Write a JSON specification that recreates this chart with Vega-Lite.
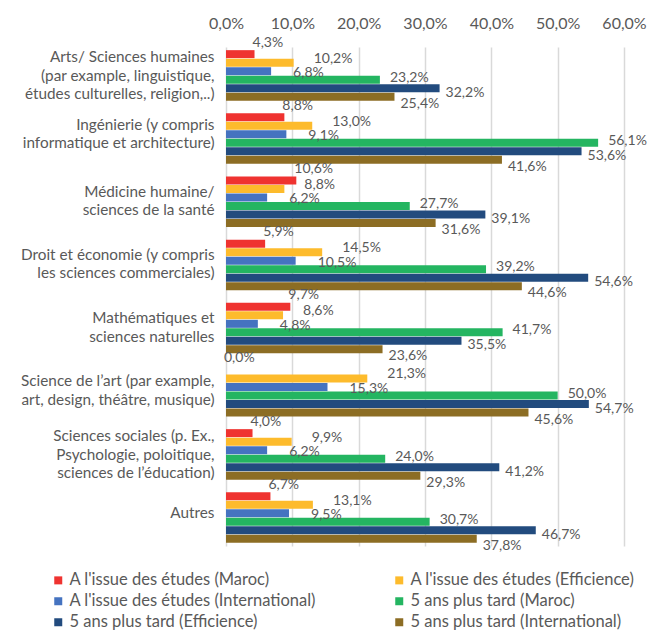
{
  "$schema": "https://vega.github.io/schema/vega-lite/v6.json",
  "width": 398,
  "height": 499,
  "autosize": {"type": "none"},
  "padding": {"left": 226, "top": 47, "right": 27, "bottom": 84},
  "background": "white",
  "config": {
    "view": {"stroke": null},
    "font": "Lato",
    "text": {"font": "Lato"}
  },
  "data": {
    "values": [
      {"cat": "Arts", "series": "A l'issue des études (Maroc)", "v": 4.3},
      {"cat": "Arts", "series": "A l'issue des études (Efficience)", "v": 10.2},
      {"cat": "Arts", "series": "A l'issue des études (International)", "v": 6.8},
      {"cat": "Arts", "series": "5 ans plus tard (Maroc)", "v": 23.2},
      {"cat": "Arts", "series": "5 ans plus tard (Efficience)", "v": 32.2},
      {"cat": "Arts", "series": "5 ans plus tard (International)", "v": 25.4},
      {"cat": "Ing", "series": "A l'issue des études (Maroc)", "v": 8.8},
      {"cat": "Ing", "series": "A l'issue des études (Efficience)", "v": 13.0},
      {"cat": "Ing", "series": "A l'issue des études (International)", "v": 9.1},
      {"cat": "Ing", "series": "5 ans plus tard (Maroc)", "v": 56.1},
      {"cat": "Ing", "series": "5 ans plus tard (Efficience)", "v": 53.6},
      {"cat": "Ing", "series": "5 ans plus tard (International)", "v": 41.6},
      {"cat": "Med", "series": "A l'issue des études (Maroc)", "v": 10.6},
      {"cat": "Med", "series": "A l'issue des études (Efficience)", "v": 8.8},
      {"cat": "Med", "series": "A l'issue des études (International)", "v": 6.2},
      {"cat": "Med", "series": "5 ans plus tard (Maroc)", "v": 27.7},
      {"cat": "Med", "series": "5 ans plus tard (Efficience)", "v": 39.1},
      {"cat": "Med", "series": "5 ans plus tard (International)", "v": 31.6},
      {"cat": "Droit", "series": "A l'issue des études (Maroc)", "v": 5.9},
      {"cat": "Droit", "series": "A l'issue des études (Efficience)", "v": 14.5},
      {"cat": "Droit", "series": "A l'issue des études (International)", "v": 10.5},
      {"cat": "Droit", "series": "5 ans plus tard (Maroc)", "v": 39.2},
      {"cat": "Droit", "series": "5 ans plus tard (Efficience)", "v": 54.6},
      {"cat": "Droit", "series": "5 ans plus tard (International)", "v": 44.6},
      {"cat": "Math", "series": "A l'issue des études (Maroc)", "v": 9.7},
      {"cat": "Math", "series": "A l'issue des études (Efficience)", "v": 8.6},
      {"cat": "Math", "series": "A l'issue des études (International)", "v": 4.8},
      {"cat": "Math", "series": "5 ans plus tard (Maroc)", "v": 41.7},
      {"cat": "Math", "series": "5 ans plus tard (Efficience)", "v": 35.5},
      {"cat": "Math", "series": "5 ans plus tard (International)", "v": 23.6},
      {"cat": "Art", "series": "A l'issue des études (Maroc)", "v": 0.0},
      {"cat": "Art", "series": "A l'issue des études (Efficience)", "v": 21.3},
      {"cat": "Art", "series": "A l'issue des études (International)", "v": 15.3},
      {"cat": "Art", "series": "5 ans plus tard (Maroc)", "v": 50.0},
      {"cat": "Art", "series": "5 ans plus tard (Efficience)", "v": 54.7},
      {"cat": "Art", "series": "5 ans plus tard (International)", "v": 45.6},
      {"cat": "Soc", "series": "A l'issue des études (Maroc)", "v": 4.0},
      {"cat": "Soc", "series": "A l'issue des études (Efficience)", "v": 9.9},
      {"cat": "Soc", "series": "A l'issue des études (International)", "v": 6.2},
      {"cat": "Soc", "series": "5 ans plus tard (Maroc)", "v": 24.0},
      {"cat": "Soc", "series": "5 ans plus tard (Efficience)", "v": 41.2},
      {"cat": "Soc", "series": "5 ans plus tard (International)", "v": 29.3},
      {"cat": "Autres", "series": "A l'issue des études (Maroc)", "v": 6.7},
      {"cat": "Autres", "series": "A l'issue des études (Efficience)", "v": 13.1},
      {"cat": "Autres", "series": "A l'issue des études (International)", "v": 9.5},
      {"cat": "Autres", "series": "5 ans plus tard (Maroc)", "v": 30.7},
      {"cat": "Autres", "series": "5 ans plus tard (Efficience)", "v": 46.7},
      {"cat": "Autres", "series": "5 ans plus tard (International)", "v": 37.8}
    ]
  },
  "transform": [
    {"calculate": "replace(format(datum.v, '.1f'), '.', ',') + '%'", "as": "label"}
  ],
  "encoding": {
    "y": {
      "field": "cat",
      "type": "nominal",
      "sort": ["Arts", "Ing", "Med", "Droit", "Math", "Art", "Soc", "Autres"],
      "scale": {"paddingInner": 0.2, "paddingOuter": 0.05},
      "axis": {
        "title": null,
        "domain": false,
        "ticks": false,
        "labelPadding": 12,
        "labelFontSize": 15.3,
        "labelLineHeight": 18.5,
        "labelLimit": 0,
        "labelColor": "#595959",
        "labelFont": "Lato",
        "labelOffset": {
          "condition": [
            {"test": "datum.value == 'Arts' || datum.value == 'Soc'", "value": -18},
            {"test": "datum.value == 'Ing'", "value": -14},
            {"test": "datum.value == 'Autres'", "value": -5}
          ],
          "value": -10
        },
        "labelExpr": "datum.value == 'Arts' ? ['Arts/ Sciences humaines', '(par example, linguistique,', 'études culturelles, religion,..)'] : datum.value == 'Ing' ? ['Ingénierie (y compris', 'informatique et architecture)'] : datum.value == 'Med' ? ['Médicine humaine/', 'sciences de la santé'] : datum.value == 'Droit' ? ['Droit et économie (y compris', 'les sciences commerciales)'] : datum.value == 'Math' ? ['Mathématiques et', 'sciences naturelles'] : datum.value == 'Art' ? ['Science de l’art (par example,', 'art, design, théâtre,  musique)'] : datum.value == 'Soc' ? ['Sciences sociales (p. Ex.,', 'Psychologie, poloitique,', 'sciences de l’éducation)'] : 'Autres'"
      }
    },
    "yOffset": {
      "field": "series",
      "type": "nominal",
      "sort": ["A l'issue des études (Maroc)", "A l'issue des études (Efficience)", "A l'issue des études (International)", "5 ans plus tard (Maroc)", "5 ans plus tard (Efficience)", "5 ans plus tard (International)"],
      "scale": {"paddingInner": 0.06, "paddingOuter": 0}
    },
    "x": {
      "field": "v",
      "type": "quantitative",
      "scale": {"domain": [0, 60], "nice": false},
      "axis": {
        "orient": "top",
        "title": null,
        "values": [0, 10, 20, 30, 40, 50, 60],
        "domain": false,
        "ticks": false,
        "grid": true,
        "gridColor": "#d9d9d9",
        "gridWidth": 1.5,
        "labelFlush": false,
        "labelOverlap": false,
        "labelPadding": 16,
        "labelFontSize": 16,
        "labelColor": "#595959",
        "labelFont": "Lato",
        "labelExpr": "replace(format(datum.value, '.1f'), '.', ',') + '%'"
      }
    }
  },
  "layer": [
    {
      "mark": {"type": "bar"},
      "encoding": {
        "color": {
          "field": "series",
          "type": "nominal",
          "scale": {
            "domain": ["A l'issue des études (Maroc)", "A l'issue des études (International)", "5 ans plus tard (Efficience)", "A l'issue des études (Efficience)", "5 ans plus tard (Maroc)", "5 ans plus tard (International)"],
            "range": ["#EF3330", "#4573C0", "#224B7E", "#FDBB2C", "#24B561", "#8C6D24"]
          },
          "legend": {
            "title": null,
            "orient": "none",
            "legendX": -176,
            "legendY": 525,
            "columns": 2,
            "columnPadding": 74,
            "rowPadding": 4,
            "padding": 0,
            "symbolType": "square",
            "symbolSize": 64,
            "symbolStrokeWidth": 0,
            "labelOffset": 3,
            "labelFontSize": 16.5,
            "labelColor": "#595959",
            "labelFont": "Lato",
            "labelLimit": 400
          }
        }
      }
    },
    {
      "transform": [{"filter": "datum.series == \"A l'issue des études (Maroc)\""}],
      "mark": {"type": "text", "align": "left", "baseline": "middle", "dx": -2, "dy": -11.5, "fontSize": 14, "color": "#595959", "font": "Lato"},
      "encoding": {"text": {"field": "label"}}
    },
    {
      "transform": [{"filter": "datum.series == \"A l'issue des études (Efficience)\""}],
      "mark": {"type": "text", "align": "left", "baseline": "middle", "dx": 20, "dy": -4, "fontSize": 14, "color": "#595959", "font": "Lato"},
      "encoding": {"text": {"field": "label"}}
    },
    {
      "transform": [{"filter": "datum.series == \"A l'issue des études (International)\""}],
      "mark": {"type": "text", "align": "left", "baseline": "middle", "dx": 22, "dy": 2, "fontSize": 14, "color": "#595959", "font": "Lato"},
      "encoding": {"text": {"field": "label"}}
    },
    {
      "transform": [{"filter": "datum.series == '5 ans plus tard (Maroc)'"}],
      "mark": {"type": "text", "align": "left", "baseline": "middle", "dx": 10, "dy": -2, "fontSize": 14, "color": "#595959", "font": "Lato"},
      "encoding": {"text": {"field": "label"}}
    },
    {
      "transform": [{"filter": "datum.series == '5 ans plus tard (Efficience)'"}],
      "mark": {"type": "text", "align": "left", "baseline": "middle", "dx": 6, "dy": 4.5, "fontSize": 14, "color": "#595959", "font": "Lato"},
      "encoding": {"text": {"field": "label"}}
    },
    {
      "transform": [{"filter": "datum.series == '5 ans plus tard (International)'"}],
      "mark": {"type": "text", "align": "left", "baseline": "middle", "dx": 6, "dy": 7, "fontSize": 14, "color": "#595959", "font": "Lato"},
      "encoding": {"text": {"field": "label"}}
    }
  ]
}
